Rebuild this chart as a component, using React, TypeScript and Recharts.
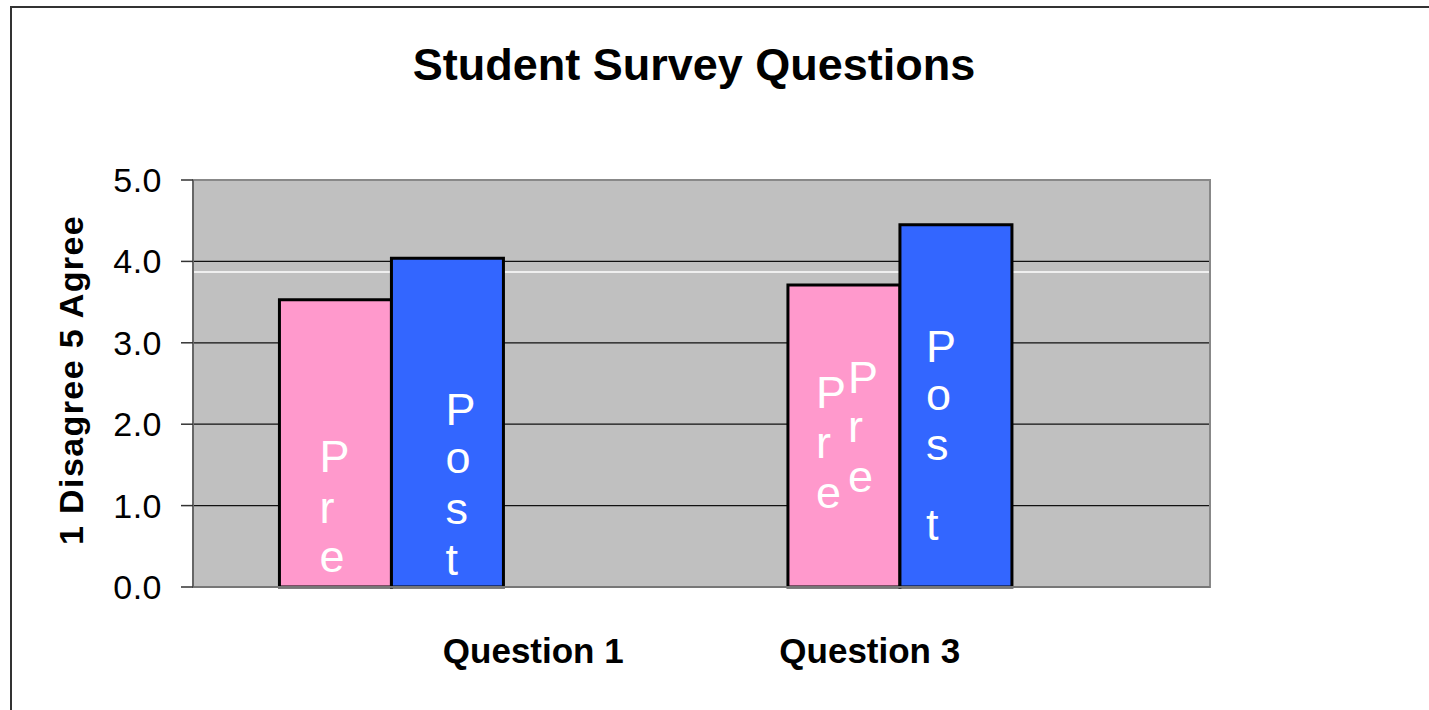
import React from 'react';
import {
  BarChart,
  Bar,
  XAxis,
  YAxis,
  CartesianGrid,
  ReferenceArea,
  Customized,
} from 'recharts';

// ---- data ----
const categories: string[] = ['Question 1', 'Question 3'];
const preScores: number[] = [3.53, 3.71];
const postScores: number[] = [4.04, 4.45];
const blankScores: (number | null)[] = [null, null];
const yTicks: number[] = [0, 1, 2, 3, 4, 5];
const whiteLineValues: number[] = [3.87];

const chartTitle = 'Student Survey Questions';
const yAxisTitle = '1 Disagree 5 Agree';

const data = categories.map((name, i) => ({
  name,
  pre: preScores[i],
  post: postScores[i],
  blank: blankScores[i],
}));

const FONT = 'Arial, "Liberation Sans", Helvetica, sans-serif';
const LETTER_SIZE = 45;

const letterBlock = (
  key: string,
  x: number,
  bottom: number,
  letters: string[],
  baselines: number[]
) => (
  <g key={key}>
    {letters.map((ch, i) => (
      <text
        key={i}
        x={x}
        y={bottom + baselines[i]}
        fill="#ffffff"
        fontFamily={FONT}
        fontSize={LETTER_SIZE}
        textAnchor="start"
      >
        {ch}
      </text>
    ))}
  </g>
);

const renderPreLabel = (props: any) => {
  const { x, y, height, index } = props;
  if (x == null || y == null) return null;
  const bottom = Number(y) + Number(height);
  const left = Number(x);
  if (index === 0) {
    return letterBlock('pre0', left + 40, bottom, ['P', 'r', 'e'], [-115, -64, -15]);
  }
  return (
    <g>
      {letterBlock('pre1a', left + 28, bottom, ['P', 'r', 'e'], [-179, -129, -79])}
      {letterBlock('pre1b', left + 60, bottom, ['P', 'r', 'e'], [-194, -145, -95])}
    </g>
  );
};

const renderPostLabel = (props: any) => {
  const { x, y, height, index } = props;
  if (x == null || y == null) return null;
  const bottom = Number(y) + Number(height);
  const left = Number(x);
  if (index === 0) {
    return letterBlock('post0', left + 54, bottom, ['P', 'o', 's', 't'], [-162, -114, -63, -12]);
  }
  return letterBlock('post1', left + 26, bottom, ['P', 'o', 's', 't'], [-225, -177, -127, -47]);
};

const CategoryTick = (props: any) => {
  const { x, y, payload, index } = props;
  const shift = index === 0 ? 86 : -86;
  return (
    <text
      x={x + shift}
      y={y + 76}
      textAnchor="middle"
      fontFamily={FONT}
      fontWeight="bold"
      fontSize={35}
      fill="#000"
    >
      {payload.value}
    </text>
  );
};

const Titles = () => (
  <g>
    <text
      x={694}
      y={80}
      textAnchor="middle"
      fontFamily={FONT}
      fontWeight="bold"
      fontSize={45}
      fill="#000"
    >
      {chartTitle}
    </text>
    <text
      x={83}
      y={380}
      transform="rotate(-90 83 380)"
      textAnchor="middle"
      fontFamily={FONT}
      fontWeight="bold"
      fontSize={34}
      letterSpacing={1.4}
      fill="#000"
    >
      {yAxisTitle}
    </text>
  </g>
);

export default function App() {
  return (
    <div
      style={{
        position: 'absolute',
        left: 0,
        top: 0,
        width: 1429,
        height: 710,
        overflow: 'hidden',
        background: '#fff',
      }}
    >
      <div
        style={{
          position: 'absolute',
          left: 10,
          top: 6,
          width: 1500,
          height: 800,
          border: '2px solid #333',
          boxSizing: 'border-box',
        }}
      />
      <div style={{ position: 'absolute', left: 0, top: 0 }}>
        <BarChart
          width={1429}
          height={710}
          data={data}
          margin={{ top: 180, right: 219, bottom: 93, left: 0 }}
          barCategoryGap="17%"
          barGap={0}
        >
          <CartesianGrid
            fill="#c0c0c0"
            vertical={false}
            stroke="#111"
            strokeWidth={1.3}
          />
          <CartesianGrid
            vertical={false}
            horizontalValues={whiteLineValues}
            stroke="#ffffff"
            strokeWidth={1.3}
          />
          <XAxis
            dataKey="name"
            height={30}
            tickLine={false}
            tickSize={0}
            tickMargin={0}
            axisLine={{ stroke: '#777', strokeWidth: 2 }}
            tick={<CategoryTick />}
            interval={0}
          />
          <YAxis
            width={193}
            domain={[0, 5]}
            ticks={yTicks}
            interval={0}
            tickSize={12}
            tickMargin={19}
            tickFormatter={(v: number) => v.toFixed(1)}
            tickLine={{ stroke: '#333', strokeWidth: 1.5 }}
            axisLine={{ stroke: '#666', strokeWidth: 2 }}
            tick={{ fontFamily: FONT, fontSize: 34, fill: '#000', letterSpacing: 0.5 }}
          />
          <ReferenceArea
            y1={0}
            y2={5}
            fill="none"
            stroke="#888"
            strokeWidth={2}
            ifOverflow="visible"
          />
          <Bar
            dataKey="pre"
            fill="#ff99cc"
            stroke="#000"
            strokeWidth={3}
            isAnimationActive={false}
            label={renderPreLabel}
          />
          <Bar
            dataKey="post"
            fill="#3366ff"
            stroke="#000"
            strokeWidth={3}
            isAnimationActive={false}
            label={renderPostLabel}
          />
          <Bar dataKey="blank" fill="#ffffcc" isAnimationActive={false} />
          <Customized component={Titles} />
        </BarChart>
      </div>
    </div>
  );
}
